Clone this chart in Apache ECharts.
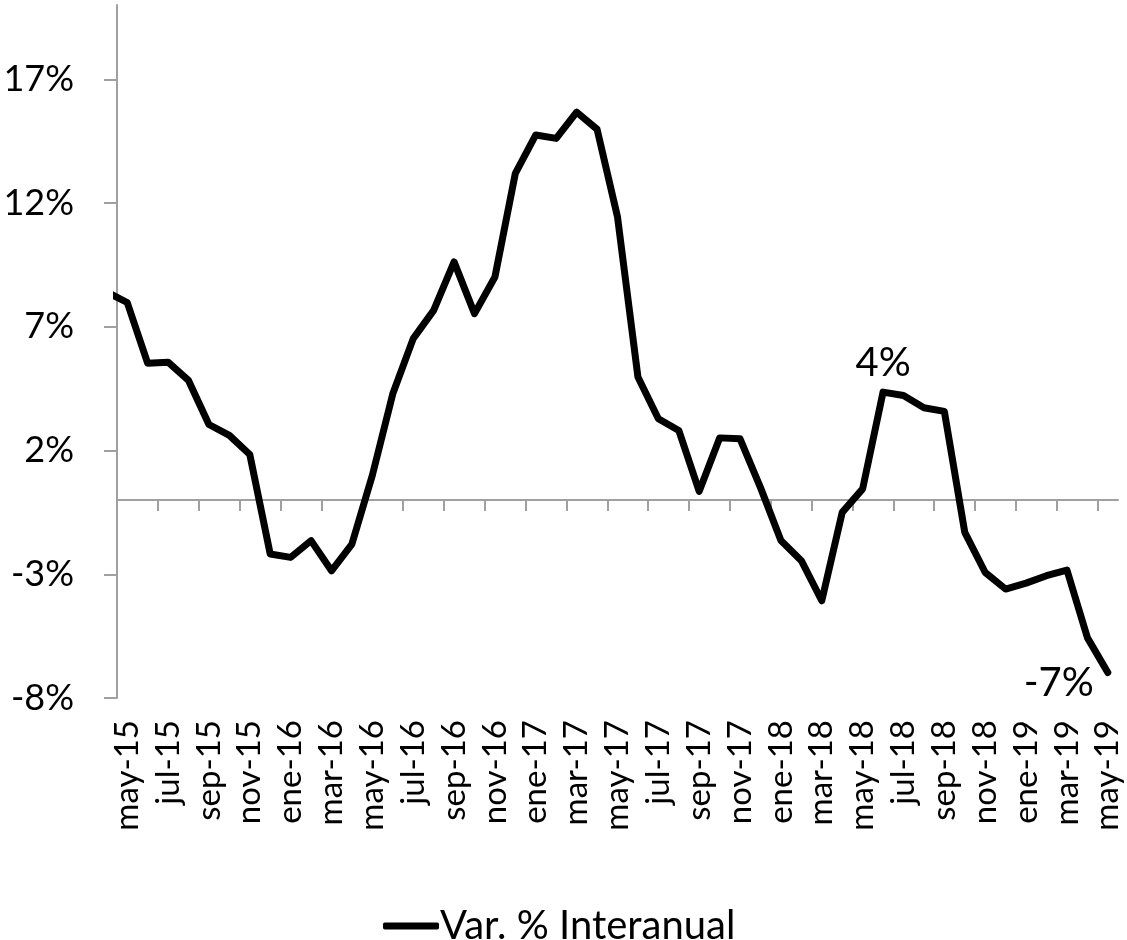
<!DOCTYPE html>
<html>
<head>
<meta charset="utf-8">
<script src="https://cdn.jsdelivr.net/npm/echarts@6/dist/echarts.min.js"></script>
<style>html,body{margin:0;padding:0;background:#fff}#c{width:1127px;height:940px}</style>
</head>
<body>
<div id="c"></div>
<script>
// Months (first one, abr-15, lies just left of the plot and is clipped)
const months = ['abr-15',
  'may-15','jun-15','jul-15','ago-15','sep-15','oct-15','nov-15','dic-15',
  'ene-16','feb-16','mar-16','abr-16','may-16','jun-16','jul-16','ago-16','sep-16','oct-16','nov-16','dic-16',
  'ene-17','feb-17','mar-17','abr-17','may-17','jun-17','jul-17','ago-17','sep-17','oct-17','nov-17','dic-17',
  'ene-18','feb-18','mar-18','abr-18','may-18','jun-18','jul-18','ago-18','sep-18','oct-18','nov-18','dic-18',
  'ene-19','feb-19','mar-19','abr-19','may-19'];
// Var. % Interanual
const varInteranual = [8.4,
  7.98, 5.53, 5.57, 4.83, 3.05, 2.61, 1.84, -2.18,
  -2.32, -1.64, -2.86, -1.78, 1.0, 4.29, 6.52, 7.66, 9.62, 7.53, 9.01, 13.2,
  14.75, 14.61, 15.67, 14.98, 11.44, 4.97, 3.28, 2.81, 0.35, 2.51, 2.47, 0.5,
  -1.64, -2.45, -4.07, -0.50, 0.45, 4.36, 4.22, 3.73, 3.58, -1.31, -2.93, -3.60,
  -3.36, -3.06, -2.83, -5.56, -6.97];
const yTicks = [-8, -3, 2, 7, 12, 17];
const seriesName = 'Var. % Interanual';
const labelledMonths = ['jun-18', 'may-19'];

const FONT = 'Lato';
const axisGray = '#a0a0a0';

const data = varInteranual.map((v, i) => {
  const m = months[i];
  if (labelledMonths.indexOf(m) === 0) {
    return { value: v, label: { show: true, position: 'top', distance: 9 } };
  }
  if (labelledMonths.indexOf(m) === 1) {
    return { value: v, label: { show: true, position: 'left', distance: 14, offset: [0, 11] } };
  }
  return v;
});

const chart = echarts.init(document.getElementById('c'));
chart.setOption({
  animation: false,
  backgroundColor: '#fff',
  textStyle: { fontFamily: FONT },
  grid: { left: 117, right: 9, top: 5, bottom: 242, containLabel: false, outerBoundsMode: 'none' },
  legend: {
    show: true,
    left: 378, top: 901,
    icon: 'roundRect',
    itemWidth: 56, itemHeight: 7, itemGap: 0,
    itemStyle: { color: '#000', borderWidth: 0 },
    textStyle: { fontFamily: FONT, fontSize: 40, color: '#000', padding: [0, 0, 0, -4] },
    data: [seriesName]
  },
  xAxis: [
    {
      // axis line + ticks on the zero line
      type: 'category', data: months, boundaryGap: false, position: 'bottom',
      axisLine: { show: true, onZero: true, lineStyle: { color: axisGray, width: 2 } },
      axisTick: { show: true, length: 11, interval: (i) => i % 2 === 0, lineStyle: { color: axisGray, width: 2 } },
      axisLabel: { show: false },
      splitLine: { show: false }
    },
    {
      // labels at the bottom
      type: 'category', data: months, boundaryGap: true, position: 'bottom', min: 1,
      axisLine: { show: false, onZero: false },
      axisTick: { show: false },
      axisLabel: {
        show: true, rotate: 90, margin: 22, interval: (i) => i % 2 === 1,
        fontFamily: FONT, fontSize: 33, color: '#000'
      },
      splitLine: { show: false }
    }
  ],
  yAxis: {
    type: 'value', min: -8, max: 20,
    axisLine: { show: true, lineStyle: { color: axisGray, width: 2 } },
    axisTick: { show: true, length: 13, customValues: yTicks, lineStyle: { color: axisGray, width: 2 } },
    axisLabel: {
      show: true, customValues: yTicks, margin: 43,
      formatter: (v) => v + '%',
      fontFamily: FONT, fontSize: 36, color: '#000'
    },
    splitLine: { show: false }
  },
  series: [{
    name: seriesName, type: 'line', xAxisIndex: 1, yAxisIndex: 0,
    data: data, showSymbol: true, showAllSymbol: true, symbol: 'circle', symbolSize: 0.01, clip: true,
    lineStyle: { color: '#000', width: 7, cap: 'round', join: 'round' },
    itemStyle: { color: '#000', borderWidth: 0 },
    label: { show: false, fontFamily: FONT, fontSize: 40, color: '#000',
      formatter: (p) => Math.round(p.value) + '%' },
    emphasis: { disabled: true }
  }]
});
</script>
</body>
</html>
